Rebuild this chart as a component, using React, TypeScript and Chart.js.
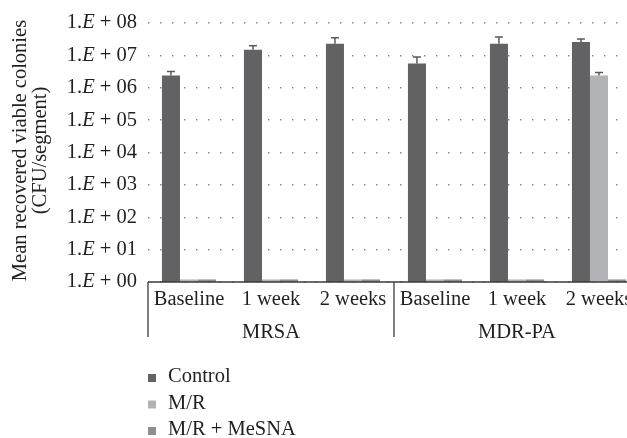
import React, { useEffect, useRef } from "react";
import Chart from "chart.js/auto";

const categories = ["Baseline", "1 week", "2 weeks", "Baseline", "1 week", "2 weeks"];
const groups = ["MRSA", "MDR-PA"];
const seriesNames = ["Control", "M/R", "M/R + MeSNA"];
const seriesColors = ["#626264", "#b2b3b6", "#8f8f92"];
const controlValues = [2.4e6, 1.5e7, 2.3e7, 5.6e6, 2.3e7, 2.6e7];
const controlUpper = [3.2e6, 2.0e7, 3.5e7, 8.9e6, 3.7e7, 3.2e7];
const mrValues = [1.2, 1.2, 1.2, 1.2, 1.2, 2.4e6];
const mrUpper = [1.2, 1.2, 1.2, 1.2, 1.2, 2.95e6];
const mesnaValues = [1.2, 1.2, 1.2, 1.2, 1.2, 1.2];
const mesnaUpper = [1.2, 1.2, 1.2, 1.2, 1.2, 1.2];
const yTickValues = [1, 1e1, 1e2, 1e3, 1e4, 1e5, 1e6, 1e7, 1e8];
const yTickExponents = ["00", "01", "02", "03", "04", "05", "06", "07", "08"];
const yTitleLines = ["Mean recovered viable colonies", "(CFU/segment)"];

const FONT = "'Liberation Serif', 'DejaVu Serif', serif";
const TEXT = "#231f20";
const FS = 20.5;

export default function App() {
  const ref = useRef<HTMLCanvasElement | null>(null);
  useEffect(() => {
    if (!ref.current) return;
    const uppers = [controlUpper, mrUpper, mesnaUpper];
    const custom = {
      id: "custom",
      afterDatasetsDraw(chart: any) {
        const ctx = chart.ctx;
        const y = chart.scales.y;
        ctx.save();
        ctx.strokeStyle = "#5a5a5c";
        ctx.lineWidth = 1.5;
        chart.data.datasets.forEach((ds: any, di: number) => {
          const meta = chart.getDatasetMeta(di);
          meta.data.forEach((el: any, i: number) => {
            const up = uppers[di][i];
            if (up <= ds.data[i]) return;
            const yt = y.getPixelForValue(up);
            ctx.beginPath();
            ctx.moveTo(el.x, el.y);
            ctx.lineTo(el.x, yt);
            ctx.moveTo(el.x - 4, yt);
            ctx.lineTo(el.x + 4, yt);
            ctx.stroke();
          });
        });
        ctx.restore();
      },
      afterDraw(chart: any) {
        const ctx = chart.ctx;
        const area = chart.chartArea;
        const x = chart.scales.x;
        const y = chart.scales.y;
        ctx.save();
        ctx.strokeStyle = "#3a3a3a";
        ctx.lineWidth = 1.3;
        ctx.beginPath();
        ctx.moveTo(area.left, area.bottom);
        ctx.lineTo(area.right, area.bottom);
        ctx.stroke();
        const mid = (x.getPixelForValue(2) + x.getPixelForValue(3)) / 2;
        const bounds = [area.left, mid, area.right];
        bounds.forEach((bx) => {
          ctx.beginPath();
          ctx.moveTo(bx, area.bottom);
          ctx.lineTo(bx, area.bottom + 55);
          ctx.stroke();
        });
        ctx.fillStyle = TEXT;
        ctx.font = `${FS}px ${FONT}`;
        ctx.textAlign = "center";
        ctx.textBaseline = "middle";
        categories.forEach((c, i) => {
          ctx.fillText(c, x.getPixelForValue(i), area.bottom + 18);
        });
        groups.forEach((g, gi) => {
          ctx.fillText(g, (bounds[gi] + bounds[gi + 1]) / 2, area.bottom + 51);
        });
        yTickValues.forEach((v, i) => {
          const py = y.getPixelForValue(v);
          const parts = [
            { t: "1.", f: `${FS}px ${FONT}` },
            { t: "E", f: `italic ${FS}px ${FONT}` },
            { t: " + " + yTickExponents[i], f: `${FS}px ${FONT}` },
          ];
          let total = 0;
          parts.forEach((p) => {
            ctx.font = p.f;
            total += ctx.measureText(p.t).width;
          });
          let px = area.left - 11 - total;
          ctx.textAlign = "left";
          parts.forEach((p) => {
            ctx.font = p.f;
            ctx.fillText(p.t, px, py);
            px += ctx.measureText(p.t).width;
          });
        });
        ctx.font = `${FS}px ${FONT}`;
        ctx.textAlign = "center";
        yTitleLines.forEach((line, li) => {
          ctx.save();
          ctx.translate(21 + li * 20, (area.top + area.bottom) / 2 - 2);
          ctx.rotate(-Math.PI / 2);
          ctx.fillText(line, 0, 0);
          ctx.restore();
        });
        ctx.textAlign = "left";
        seriesNames.forEach((n, i) => {
          const cy = area.bottom + 95 + i * 26.5;
          ctx.fillStyle = seriesColors[i];
          ctx.fillRect(area.left, cy - 3, 8, 8);
          ctx.fillStyle = TEXT;
          ctx.fillText(n, area.left + 20, cy);
        });
        ctx.restore();
      },
    };
    const chart = new Chart(ref.current, {
      type: "bar",
      data: {
        labels: categories,
        datasets: [
          { label: seriesNames[0], data: controlValues, backgroundColor: seriesColors[0] },
          { label: seriesNames[1], data: mrValues, backgroundColor: seriesColors[1] },
          { label: seriesNames[2], data: mesnaValues, backgroundColor: seriesColors[2] },
        ],
      },
      options: {
        responsive: false,
        animation: false,
        devicePixelRatio: 1,
        layout: { padding: { left: 148, top: 23, right: 40, bottom: 156 } },
        datasets: { bar: { categoryPercentage: 0.66, barPercentage: 1.0 } },
        plugins: { legend: { display: false }, tooltip: { enabled: false } },
        scales: {
          x: { type: "category", display: false, offset: true },
          y: {
            type: "logarithmic",
            min: 1,
            max: 1e8,
            afterBuildTicks: (axis: any) => {
              axis.ticks = yTickValues.map((v) => ({ value: v }));
            },
            ticks: { display: false },
            grid: { drawTicks: false, color: "#8a8a8a", lineWidth: 1.5 },
            border: { display: false, dash: [1.5, 10.5] },
          },
        },
      },
      plugins: [custom],
    });
    return () => chart.destroy();
  }, []);
  return (
    <div style={{ position: "fixed", left: 0, top: 0, width: 627, height: 438, overflow: "hidden", background: "#fff" }}>
      <canvas ref={ref} width={680} height={438} style={{ display: "block" }} />
    </div>
  );
}
